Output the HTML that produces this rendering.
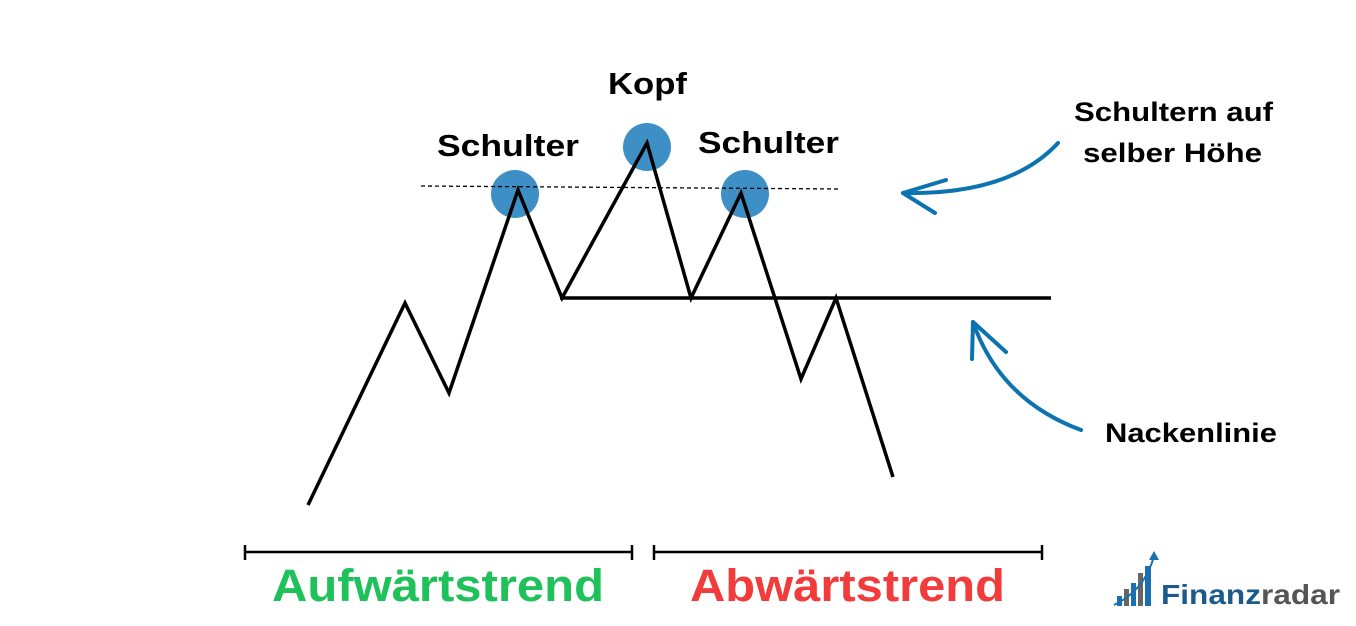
<!DOCTYPE html>
<html><head><meta charset="utf-8"><style>
html,body{margin:0;padding:0;background:#fff;width:1356px;height:626px;overflow:hidden}
svg{display:block}
text{font-family:"Liberation Sans",sans-serif;font-weight:bold}
</style></head><body>
<svg width="1356" height="626" viewBox="0 0 1356 626">
<circle cx="515" cy="194" r="24" fill="#3d8fc6"/>
<circle cx="647" cy="147" r="24" fill="#3d8fc6"/>
<circle cx="745" cy="194" r="24" fill="#3d8fc6"/>
<line x1="421" y1="186" x2="840" y2="189" stroke="#000" stroke-width="1.3" stroke-dasharray="4,3"/>
<polyline points="308,505 405,303 449,393 518,190 562,298 647,143 691,298 741,193 801,379 836,298 893,477" fill="none" stroke="#000" stroke-width="3.5" stroke-linejoin="miter"/>
<line x1="560" y1="298" x2="1051" y2="298" stroke="#000" stroke-width="3.5"/>
<g fill="none" stroke="#0a73b0" stroke-width="4" stroke-linecap="round" stroke-linejoin="round">
<path d="M1058,143 Q1010,195 903,193"/>
<path d="M946,180 L903,193 L935,213"/>
<path d="M1081,430 Q1000,400 973,322"/>
<path d="M972,359 L973,322 L1006,352"/>
</g>
<g stroke="#000" stroke-width="2.5">
<line x1="245" y1="552" x2="632" y2="552"/><line x1="245" y1="545" x2="245" y2="560"/><line x1="632" y1="545" x2="632" y2="560"/>
<line x1="654" y1="552" x2="1042" y2="552"/><line x1="654" y1="545" x2="654" y2="560"/><line x1="1042" y1="545" x2="1042" y2="560"/>
</g>
<g fill="#000">
<text x="608" y="94" font-size="31" textLength="79" lengthAdjust="spacingAndGlyphs">Kopf</text>
<text x="437" y="156" font-size="31" textLength="142" lengthAdjust="spacingAndGlyphs">Schulter</text>
<text x="698" y="153" font-size="31" textLength="141" lengthAdjust="spacingAndGlyphs">Schulter</text>
<text x="1074" y="121" font-size="27" textLength="199" lengthAdjust="spacingAndGlyphs">Schultern auf</text>
<text x="1083" y="162" font-size="27" textLength="179" lengthAdjust="spacingAndGlyphs">selber Höhe</text>
<text x="1105" y="442" font-size="27" textLength="172" lengthAdjust="spacingAndGlyphs">Nackenlinie</text>
<text x="272" y="601" font-size="45" fill="#1fc15b" textLength="332" lengthAdjust="spacingAndGlyphs">Aufwärtstrend</text>
<text x="690" y="601" font-size="45" fill="#f23b3b" textLength="315" lengthAdjust="spacingAndGlyphs">Abwärtstrend</text>
</g>
<g>
<rect x="1117" y="596" width="5" height="10" fill="#1a6fb0"/>
<rect x="1124" y="589" width="5" height="17" fill="#666"/>
<rect x="1131" y="583" width="5" height="23" fill="#1a6fb0"/>
<rect x="1138" y="573" width="5" height="33" fill="#666"/>
<rect x="1145" y="566" width="6" height="40" fill="#1a6fb0"/>
<path d="M1114,605 Q1145,590 1154,556" fill="none" stroke="#1a6fb0" stroke-width="2"/>
<path d="M1149,560 L1154,551 L1159,560 Z" fill="#1a6fb0"/>
<text x="1161" y="604" font-size="28" fill="#1b5a8a" textLength="179" lengthAdjust="spacingAndGlyphs">Finanz<tspan fill="#555">radar</tspan></text>
</g>
</svg>
</body></html>
